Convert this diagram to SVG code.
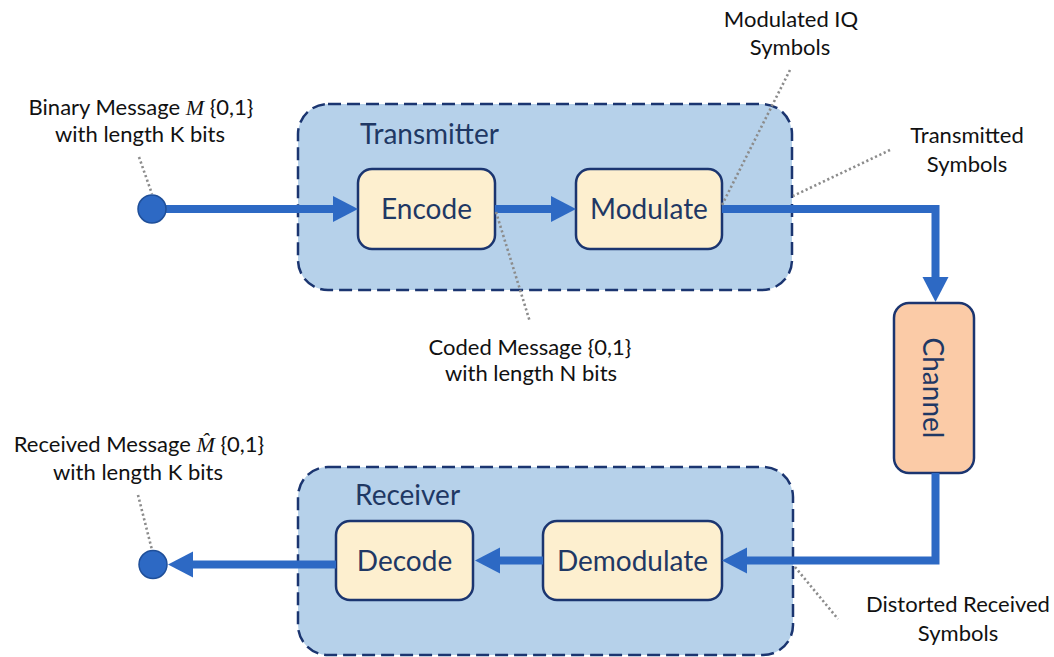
<svg xmlns="http://www.w3.org/2000/svg" width="1054" height="657" viewBox="0 0 1054 657">
  <style>
    .container { fill: #b6d1ea; stroke: #1b3570; stroke-width: 2.5; stroke-dasharray: 13 6; }
    .block { fill: #fdefcf; stroke: #1b3570; stroke-width: 2.5; }
    .channel { fill: #fbcba7; stroke: #1b3570; stroke-width: 2.5; }
    .flow { fill: none; stroke: #2d69c4; stroke-width: 8; stroke-linejoin: miter; }
    .leader { fill: none; stroke: #8c8c8c; stroke-width: 2.6; stroke-dasharray: 2.2 2.6; }
    .port { fill: #2d69c4; stroke: #1f4f99; stroke-width: 1.5; }
    .title { font-family: Lato, "Liberation Sans", sans-serif; font-size: 28px; fill: #1f3864; }
    .blocktext { font-family: Lato, "Liberation Sans", sans-serif; font-size: 28px; fill: #1f3864; text-anchor: middle; }
    .note { font-family: Lato, "Liberation Sans", sans-serif; font-size: 22px; fill: #111111; text-anchor: middle; }
    .math { font-family: "Liberation Serif", serif; font-style: italic; }
  </style>
  <defs>
    <marker id="head" markerUnits="userSpaceOnUse" markerWidth="26" markerHeight="27" refX="0" refY="13" orient="auto">
      <path d="M0,0 L25,13 L0,26 Z" fill="#2d69c4"/>
    </marker>
  </defs>

  <rect width="1054" height="657" fill="#ffffff"/>

  <!-- Transmitter chain -->
  <g id="transmitter">
    <rect class="container" x="298" y="104" width="494" height="186" rx="30"/>
    <text class="title" x="360" y="144">Transmitter</text>
  </g>
  <g id="encode">
    <rect class="block" x="358" y="169" width="137" height="80" rx="14"/>
    <text class="blocktext" x="426.5" y="219">Encode</text>
  </g>
  <g id="modulate">
    <rect class="block" x="576" y="169" width="146" height="80" rx="14"/>
    <text class="blocktext" x="649" y="219">Modulate</text>
  </g>

  <!-- Receiver chain -->
  <g id="receiver">
    <rect class="container" x="298" y="467" width="495" height="188" rx="30"/>
    <text class="title" x="355" y="505">Receiver</text>
  </g>
  <g id="decode">
    <rect class="block" x="336" y="521" width="137" height="79" rx="14"/>
    <text class="blocktext" x="404.5" y="571">Decode</text>
  </g>
  <g id="demodulate">
    <rect class="block" x="543" y="521" width="179" height="79" rx="14"/>
    <text class="blocktext" x="632.5" y="571">Demodulate</text>
  </g>

  <!-- Channel -->
  <g id="channel">
    <rect class="channel" x="894" y="303" width="80" height="170" rx="15"/>
    <text class="blocktext" x="934" y="388" dominant-baseline="central" transform="rotate(90 934 388)">Channel</text>
  </g>

  <!-- Signal flow -->
  <g id="connectors">
    <path class="flow" d="M152,209 H333" marker-end="url(#head)"/>
    <path class="flow" d="M495,209 H551" marker-end="url(#head)"/>
    <path class="flow" d="M722,209 H935.5 V277" marker-end="url(#head)"/>
    <path class="flow" d="M935.5,473 V560.5 H747" marker-end="url(#head)"/>
    <path class="flow" d="M543,560.5 H500" marker-end="url(#head)"/>
    <path class="flow" d="M336,564.5 H193" marker-end="url(#head)"/>

    <!-- callout leaders -->
    <path class="leader" d="M139,157 L152,194"/>
    <path class="leader" d="M496,212 L530,322"/>
    <path class="leader" d="M790,70 L722,205"/>
    <path class="leader" d="M890,150 L793,196"/>
    <path class="leader" d="M138,495 L152,550"/>
    <path class="leader" d="M795,567 L838,619"/>
  </g>

  <!-- End points -->
  <g id="source">
    <circle class="port" cx="152" cy="209" r="14"/>
  </g>
  <g id="sink">
    <circle class="port" cx="153" cy="564.5" r="14"/>
  </g>

  <!-- Annotations -->
  <g id="label-binary">
    <text class="note" x="141" y="115">Binary Message <tspan class="math">M</tspan> {0,1}</text>
    <text class="note" x="140" y="142">with length K bits</text>
  </g>
  <g id="label-coded">
    <text class="note" x="530" y="355">Coded Message {0,1}</text>
    <text class="note" x="531" y="381">with length N bits</text>
  </g>
  <g id="label-iq">
    <text class="note" x="791" y="27">Modulated IQ</text>
    <text class="note" x="790" y="55">Symbols</text>
  </g>
  <g id="label-transmitted">
    <text class="note" x="967" y="143">Transmitted</text>
    <text class="note" x="967" y="172">Symbols</text>
  </g>
  <g id="label-received">
    <text class="note" x="139" y="452">Received Message <tspan class="math">M̂</tspan> {0,1}</text>
    <text class="note" x="138" y="480">with length K bits</text>
  </g>
  <g id="label-distorted">
    <text class="note" x="958" y="612">Distorted Received</text>
    <text class="note" x="958" y="641">Symbols</text>
  </g>
</svg>
